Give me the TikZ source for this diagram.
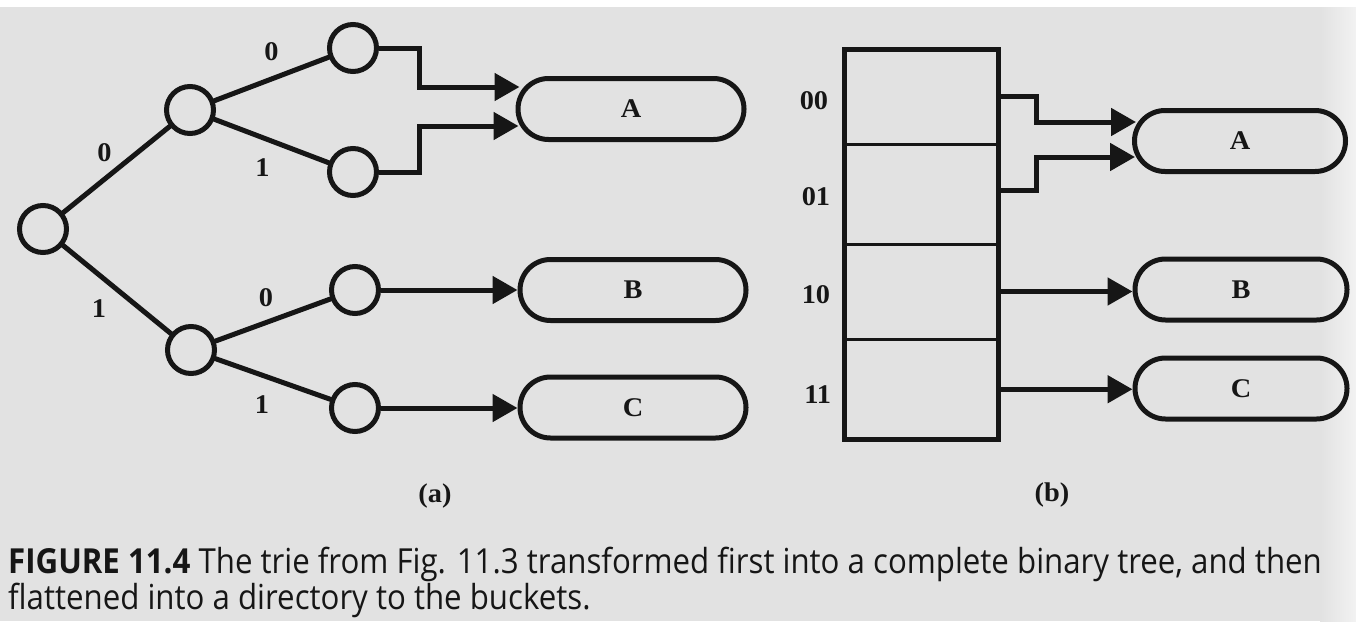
\documentclass[tikz,border=0pt]{standalone}
\usepackage{fontspec}
\setmainfont{Liberation Serif}
\newfontfamily\lblfont[FakeStretch=1.05]{Liberation Serif}
\newfontfamily\capfont[FakeStretch=0.905]{Open Sans}
\usetikzlibrary{arrows.meta,shapes.misc,calc}
\definecolor{paper}{RGB}{226,226,226}
\definecolor{paperlight}{RGB}{242,242,242}
\definecolor{ink}{RGB}{22,22,22}
\begin{document}
\begin{tikzpicture}[x=1pt,y=-1pt,
  lbl/.style={font=\lblfont\fontsize{27}{27}\selectfont\bfseries, text=ink, inner sep=0pt},
  tnode/.style={circle, draw=ink, line width=5pt, minimum size=47pt, inner sep=0pt},
  bucket/.style={rounded rectangle, draw=ink, line width=5pt, minimum height=61pt,
    inner sep=0pt, font=\lblfont\fontsize{27}{27}\selectfont\bfseries, text=ink},
  cell/.style={rectangle, inner sep=0pt, minimum width=154pt},
  edge/.style={draw=ink, line width=5pt, line cap=round},
  link/.style={draw=ink, line width=5pt, -{Triangle[length=25pt,width=27pt]}},
  divider/.style={draw=ink, line width=3pt},
  dirbox/.style={draw=ink, line width=5.5pt},
  capline/.style={anchor=base west, inner sep=0pt, text=ink,
    font=\capfont\fontsize{34.5}{36}\selectfont}
]
\useasboundingbox (0,0) rectangle (1356,621);
\fill[paper] (0,0) rectangle (1356,621);
\shade[left color=paper, right color=paperlight] (1320,0) rectangle (1356,621);
\fill[white] (0,0) rectangle (1356,7);

% ---------- (a) tree ----------
\node[tnode] (r)   at (43,229) {};
\node[tnode] (t0)  at (190,110) {};
\node[tnode] (t1)  at (191,350) {};
\node[tnode] (t00) at (353,48) {};
\node[tnode] (t01) at (353,172) {};
\node[tnode] (t10) at (355,290) {};
\node[tnode] (t11) at (355,408) {};

\draw[edge] (r) -- node[lbl, xshift=-12pt, yshift=17pt] {0} (t0);
\draw[edge] (r) -- node[lbl, xshift=-18pt, yshift=-19pt] {1} (t1);
\draw[edge] (t0) -- node[lbl, xshift=0pt, yshift=27pt] {0} (t00);
\draw[edge] (t0) -- node[lbl, xshift=-9pt, yshift=-27pt] {1} (t01);
\draw[edge] (t1) -- node[lbl, xshift=-7pt, yshift=22pt] {0} (t10);
\draw[edge] (t1) -- node[lbl, xshift=-11pt, yshift=-26pt] {1} (t11);

\node[bucket, minimum width=226pt] (bA) at (631,109) {A};
\node[bucket, minimum width=226pt] (bB) at (633,290) {B};
\node[bucket, minimum width=226pt] (bC) at (633,407.5) {C};

\draw[link] (t00.east) -- ++(40,0) |- ($(bA.west)+(4,-22)$);
\draw[link] (t01.east) -- ++(40,0) |- ($(bA.west)+(3,17)$);
\draw[link] (t10.east) -- (t10.east -| bB.west);
\draw[link] (t11.east) -- (t11.east -| bC.west);

\node[lbl] (capa) at (435,496) {(a)};

% ---------- (b) directory ----------
\node[cell, minimum height=94.5pt] (c00) at (921.5,96.75) {};
\node[cell, minimum height=100pt]  (c01) at (921.5,194) {};
\node[cell, minimum height=95pt]   (c10) at (921.5,291.5) {};
\node[cell, minimum height=100.5pt] (c11) at (921.5,389.25) {};
\draw[divider] (c00.south west) -- (c00.south east);
\draw[divider] (c01.south west) -- (c01.south east);
\draw[divider] (c10.south west) -- (c10.south east);
\draw[dirbox] (c00.north west) rectangle (c11.south east);

\node[lbl, anchor=east] (l00) at ($(c00.west)+(-16,4)$) {00};
\node[lbl, anchor=east] (l01) at ($(c01.west)+(-14,3)$) {01};
\node[lbl, anchor=east] (l10) at ($(c10.west)+(-14,3.5)$) {10};
\node[lbl, anchor=east] (l11) at ($(c11.west)+(-13,5)$) {11};

\node[bucket, minimum width=211pt] (bA2) at (1240,141) {A};
\node[bucket, minimum width=212pt] (bB2) at (1241,289.5) {B};
\node[bucket, minimum width=212pt] (bC2) at (1241,388.5) {C};

\draw[link] (c00.east) -- ++(38,0) |- ($(bA2.west)+(4,-19)$);
\draw[link] ($(c01.east)+(0,-4)$) -- ++(38,0) |- ($(bA2.west)+(3,16)$);
\draw[link] (c10.east) -- (c10.east -| bB2.west);
\draw[link] (c11.east) -- (c11.east -| bC2.west);

\node[lbl] (capb) at (1052,495) {(b)};

% ---------- caption ----------
\node[capline] (cap1) at (8,573) {\textbf{FIGURE 11.4} The trie from Fig. 11.3 transformed first into a complete binary tree, and then};
\node[capline] (cap2) at (8,609) {flattened into a directory to the buckets.};
\end{tikzpicture}
\end{document}
